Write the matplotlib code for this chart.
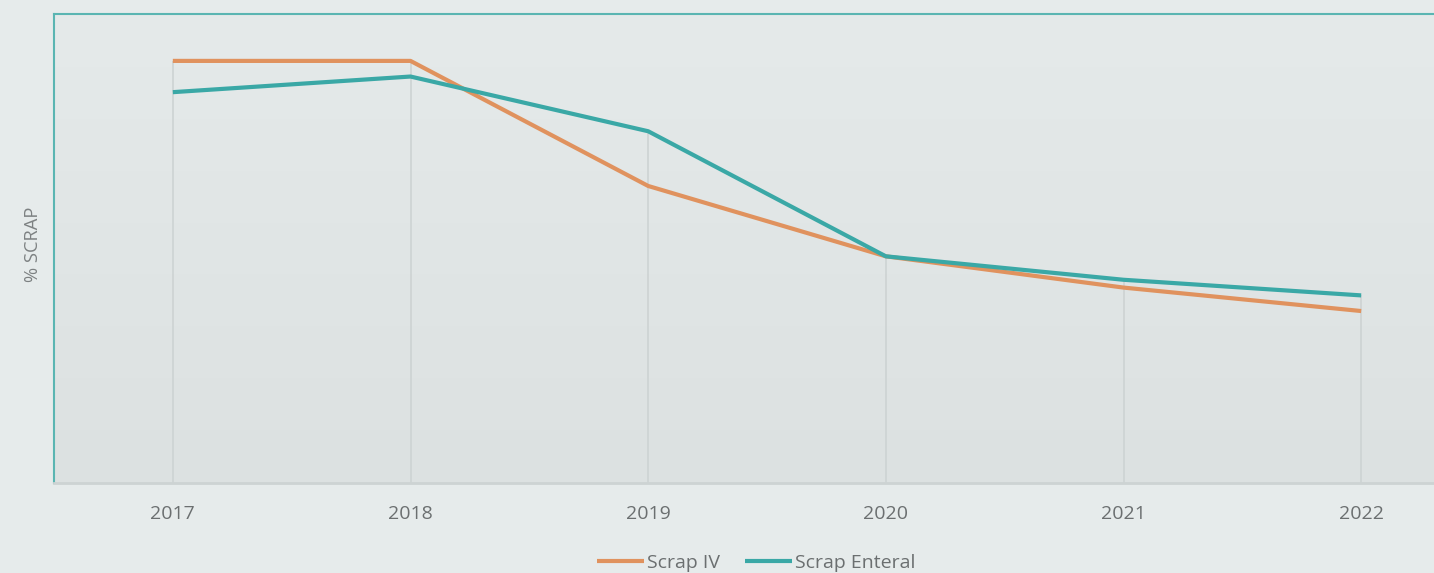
import matplotlib
matplotlib.use("Agg")
import matplotlib.pyplot as plt
import numpy as np
from matplotlib.colors import LinearSegmentedColormap

years = [2017, 2018, 2019, 2020, 2021, 2022]
scrap_iv = [2.70, 2.70, 1.90, 1.45, 1.25, 1.10]
scrap_enteral = [2.50, 2.60, 2.25, 1.45, 1.30, 1.20]
ylabel = "% SCRAP"
legend_labels = ["Scrap IV", "Scrap Enteral"]

plt.rcParams['font.family'] = ['Open Sans', 'DejaVu Sans']

fig = plt.figure(figsize=(14.34, 5.73), dpi=100)
fig.patch.set_facecolor('#e6ebeb')
ax = fig.add_axes([54/1434, 90/573, (1480-54)/1434, (483-14)/573])
ax.set_facecolor('none')

# gradient background
grad = np.linspace(0, 1, 256).reshape(-1, 1)
cmap = LinearSegmentedColormap.from_list('bg', ['#dce1e1', '#e5eaea'])
ax.imshow(grad, cmap=cmap, aspect='auto', extent=[0, 1, 0, 1],
          transform=ax.transAxes, origin='lower', zorder=0)

orange = '#e0925e'
teal = '#3aa8a6'

tops = [max(a, b) for a, b in zip(scrap_iv, scrap_enteral)]
ax.vlines(years, 0, tops, colors='#cdd3d3', linewidth=1.2, zorder=1)

ax.plot(years, scrap_iv, color=orange, linewidth=3, solid_capstyle='butt', label=legend_labels[0], zorder=3)
ax.plot(years, scrap_enteral, color=teal, linewidth=3, solid_capstyle='butt', label=legend_labels[1], zorder=3)

ax.set_xlim(2016.5, 2022.5)
ax.set_ylim(0, 3.0)
ax.set_xticks(years)
ax.set_xticklabels([str(y) for y in years])
ax.set_yticks([])
ax.tick_params(axis='x', length=0, pad=16, labelsize=14, labelcolor='#6b6f70')

for s in ['left', 'top']:
    ax.spines[s].set_color('#5ab5b2')
    ax.spines[s].set_linewidth(1.5)
ax.spines['bottom'].set_color('#cdd3d3')
ax.spines['bottom'].set_linewidth(2)
ax.spines['right'].set_visible(False)

fig.text(33/1434, 1 - 244/573, ylabel, rotation=90, ha='center', va='center',
         fontsize=13.2, color='#7d8182')

leg = fig.legend(loc='center', bbox_to_anchor=(756/1434, 1 - 563/573), ncol=2,
                 frameon=False, fontsize=14, handlelength=2.4, handletextpad=0.15,
                 columnspacing=1.3, labelcolor='#6b6f70')

fig.savefig('out.png', dpi=100, facecolor=fig.get_facecolor())
